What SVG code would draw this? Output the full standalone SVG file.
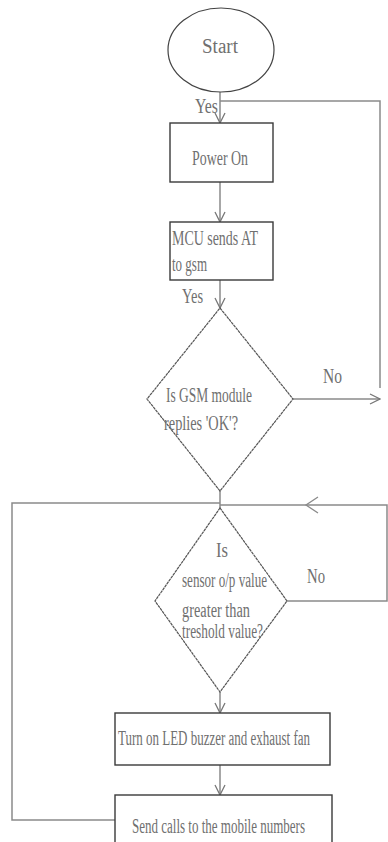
<svg xmlns="http://www.w3.org/2000/svg" width="388" height="842" viewBox="0 0 388 842">
<style>
.t{font-family:"Liberation Serif","Times New Roman",serif;font-size:13.5px;fill:#707070}
.box{fill:#fff;stroke:#3a3a3a;stroke-width:1.4}
.dia{fill:#fff;stroke:#555;stroke-width:1.2;stroke-dasharray:3 0.6}
.c{fill:none;stroke:#8a8a8a;stroke-width:1.5}
.ah{fill:none;stroke:#8a8a8a;stroke-width:1.3}
</style>
<defs>
<marker id="arr" viewBox="0 0 12 12" refX="11" refY="6" markerWidth="12" markerHeight="12" markerUnits="userSpaceOnUse" orient="auto">
<path d="M1,1 L11,6 L1,11" fill="none" stroke="#777" stroke-width="1.3"/>
</marker>
</defs>
<g id="connectors">
<line class="c" x1="220" y1="92" x2="220" y2="123" marker-end="url(#arr)"/>
<path class="c" d="M380,388 V101 H220"/>
<line class="c" x1="293" y1="399" x2="380" y2="399" marker-end="url(#arr)"/>
<line class="c" x1="220" y1="182" x2="220" y2="222" marker-end="url(#arr)"/>
<line class="c" x1="220" y1="280" x2="220" y2="308" marker-end="url(#arr)"/>
<line class="c" x1="220" y1="490" x2="220" y2="509"/>
<path class="c" d="M287,601 H387 V505 H220"/>
<path class="ah" d="M318,497 L306,505 L318,513"/>
<path class="c" d="M115,820 H12 V503 H220"/>
<line class="c" x1="220" y1="692" x2="220" y2="713" marker-end="url(#arr)"/>
<line class="c" x1="220" y1="765" x2="220" y2="795" marker-end="url(#arr)"/>
</g>
<g id="start">
<ellipse cx="221" cy="50" rx="53" ry="42" fill="#fff" stroke="#444" stroke-width="1.2"/>
<text class="t" transform="translate(202,53) scale(1,1.5)" font-size="19" textLength="36" lengthAdjust="spacingAndGlyphs">Start</text>
</g>
<text class="t" transform="translate(195,113) scale(1,1.5)" font-size="15" textLength="23" lengthAdjust="spacingAndGlyphs">Yes</text>
<g id="power">
<rect class="box" x="170" y="123" width="103" height="59"/>
<text class="t" transform="translate(192,165) scale(1,1.5)" font-size="14" textLength="56" lengthAdjust="spacingAndGlyphs">Power On</text>
</g>
<g id="mcu">
<rect class="box" x="170" y="222" width="103" height="58"/>
<text class="t" transform="translate(172,245) scale(1,1.5)" textLength="86" lengthAdjust="spacingAndGlyphs">MCU sends AT</text>
<text class="t" transform="translate(172,271) scale(1,1.5)" textLength="35" lengthAdjust="spacingAndGlyphs">to gsm</text>
</g>
<text class="t" transform="translate(182,303) scale(1,1.5)" textLength="21" lengthAdjust="spacingAndGlyphs">Yes</text>
<g id="gsm">
<polygon class="dia" points="220,308 293,399 220,491 147,399"/>
<text class="t" transform="translate(166,402) scale(1,1.5)" textLength="86" lengthAdjust="spacingAndGlyphs">Is GSM module</text>
<text class="t" transform="translate(164,430) scale(1,1.5)" textLength="74" lengthAdjust="spacingAndGlyphs">replies 'OK'?</text>
</g>
<text class="t" transform="translate(323,383) scale(1,1.5)" font-size="15" textLength="19" lengthAdjust="spacingAndGlyphs">No</text>
<g id="sensor">
<polygon class="dia" points="220,508 287,601 220,692 155,601"/>
<text class="t" transform="translate(216,557) scale(1,1.5)" textLength="12" lengthAdjust="spacingAndGlyphs">Is</text>
<text class="t" transform="translate(182,587) scale(1,1.5)" font-size="12.5" textLength="85" lengthAdjust="spacingAndGlyphs">sensor o/p value</text>
<text class="t" transform="translate(182,617) scale(1,1.5)" textLength="68" lengthAdjust="spacingAndGlyphs">greater than</text>
<text class="t" transform="translate(182,638) scale(1,1.5)" font-size="13" textLength="81" lengthAdjust="spacingAndGlyphs">treshold value?</text>
</g>
<text class="t" transform="translate(307,583) scale(1,1.5)" font-size="14.5" textLength="18" lengthAdjust="spacingAndGlyphs">No</text>
<g id="turnon">
<rect class="box" x="115" y="713" width="215" height="52"/>
<text class="t" transform="translate(118,745) scale(1,1.5)" font-size="13" textLength="192" lengthAdjust="spacingAndGlyphs">Turn on LED buzzer and exhaust fan</text>
</g>
<g id="send">
<rect class="box" x="115" y="795" width="217" height="52"/>
<text class="t" transform="translate(132,833) scale(1,1.5)" font-size="13" textLength="173" lengthAdjust="spacingAndGlyphs">Send calls to the mobile numbers</text>
</g>
</svg>
